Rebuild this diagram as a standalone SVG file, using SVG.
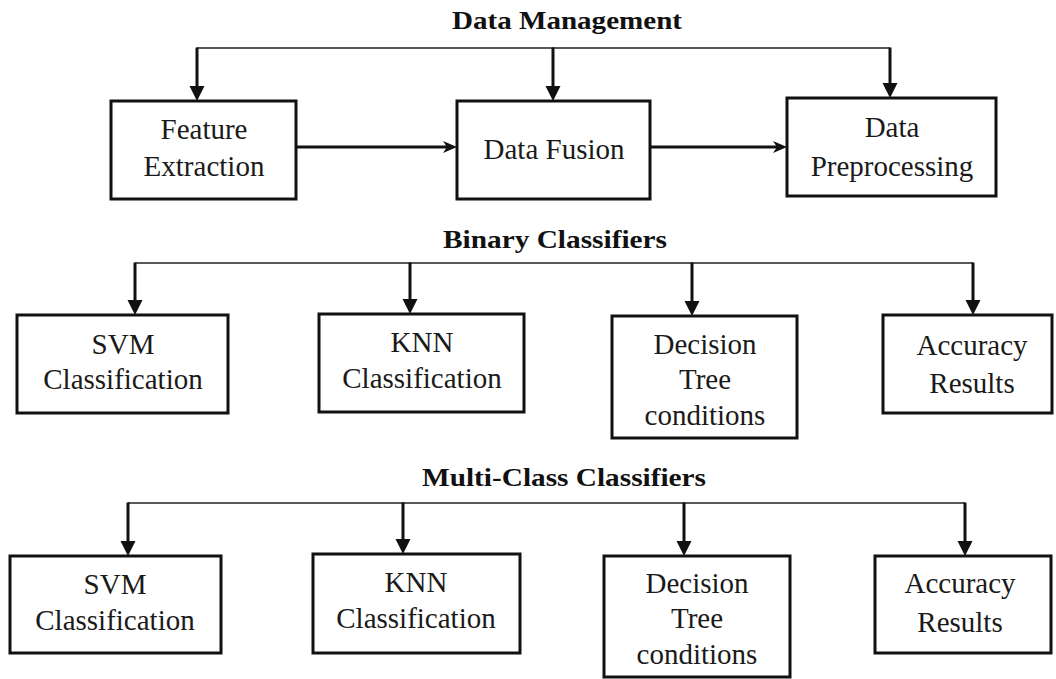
<svg xmlns="http://www.w3.org/2000/svg" width="1056" height="679" viewBox="0 0 1056 679">
<style>
.box{fill:#fff;stroke:#111;stroke-width:3}
.t{font-family:"Liberation Serif","Times New Roman",serif;font-size:29px;fill:#1a1a1a;text-anchor:middle}
.h{font-family:"Liberation Serif","Times New Roman",serif;font-size:25px;font-weight:bold;fill:#111}
.bus{stroke:#222;stroke-width:1.6;fill:none}
.stem{stroke:#111;stroke-width:3;fill:none;marker-end:url(#tri)}
.arr{stroke:#111;stroke-width:3;fill:none;marker-end:url(#barb)}
</style>
<defs>
<marker id="tri" markerUnits="userSpaceOnUse" markerWidth="16" markerHeight="16" viewBox="0 0 16 16" refX="2" refY="7.5" orient="auto">
<path d="M0,0 L15,7.5 L0,15 Z" fill="#111"/>
</marker>
<marker id="barb" markerUnits="userSpaceOnUse" markerWidth="16" markerHeight="14" viewBox="0 0 16 14" refX="4" refY="6" orient="auto">
<path d="M0,0 L14,6 L0,12 L4,6 Z" fill="#111"/>
</marker>
</defs>

<g id="titles">
<text class="h" x="452" y="29" textLength="230" lengthAdjust="spacingAndGlyphs">Data Management</text>
<text class="h" x="443" y="248" textLength="224" lengthAdjust="spacingAndGlyphs">Binary Classifiers</text>
<text class="h" x="422" y="486" textLength="284" lengthAdjust="spacingAndGlyphs">Multi-Class Classifiers</text>
</g>

<g id="connectors">
<line class="bus" x1="197" y1="48" x2="890" y2="48"/>
<line class="stem" x1="197" y1="47.5" x2="197" y2="88"/>
<line class="stem" x1="553" y1="47.5" x2="553" y2="88"/>
<line class="stem" x1="890" y1="47.5" x2="890" y2="85"/>
<line class="arr" x1="296" y1="147" x2="447" y2="147"/>
<line class="arr" x1="650" y1="147" x2="777" y2="147"/>

<line class="bus" x1="135" y1="263" x2="973" y2="263"/>
<line class="stem" x1="135" y1="262.5" x2="135" y2="302"/>
<line class="stem" x1="410" y1="262.5" x2="410" y2="301"/>
<line class="stem" x1="692" y1="262.5" x2="692" y2="303"/>
<line class="stem" x1="973" y1="262.5" x2="973" y2="302"/>

<line class="bus" x1="128" y1="503" x2="965" y2="503"/>
<line class="stem" x1="128" y1="502.5" x2="128" y2="543"/>
<line class="stem" x1="403" y1="502.5" x2="403" y2="541"/>
<line class="stem" x1="684" y1="502.5" x2="684" y2="543"/>
<line class="stem" x1="965" y1="502.5" x2="965" y2="543"/>
</g>

<g id="feature-extraction">
<rect class="box" x="111" y="101" width="185" height="98"/>
<text class="t" x="204" y="139">Feature</text>
<text class="t" x="204" y="176">Extraction</text>
</g>
<g id="data-fusion">
<rect class="box" x="457" y="101" width="193" height="98"/>
<text class="t" x="554" y="159">Data Fusion</text>
</g>
<g id="data-preprocessing">
<rect class="box" x="787" y="98" width="209" height="98"/>
<text class="t" x="892" y="137">Data</text>
<text class="t" x="892" y="176">Preprocessing</text>
</g>

<g id="bin-svm">
<rect class="box" x="17" y="315" width="211" height="98"/>
<text class="t" x="123" y="354">SVM</text>
<text class="t" x="123" y="389">Classification</text>
</g>
<g id="bin-knn">
<rect class="box" x="319" y="314" width="205" height="98"/>
<text class="t" x="422" y="352">KNN</text>
<text class="t" x="422" y="388">Classification</text>
</g>
<g id="bin-dt">
<rect class="box" x="612" y="316" width="185" height="122"/>
<text class="t" x="705" y="354">Decision</text>
<text class="t" x="705" y="389">Tree</text>
<text class="t" x="705" y="425">conditions</text>
</g>
<g id="bin-acc">
<rect class="box" x="883" y="315" width="169" height="98"/>
<text class="t" x="972" y="355">Accuracy</text>
<text class="t" x="972" y="393">Results</text>
</g>

<g id="mc-svm">
<rect class="box" x="10" y="556" width="211" height="97"/>
<text class="t" x="115" y="594">SVM</text>
<text class="t" x="115" y="630">Classification</text>
</g>
<g id="mc-knn">
<rect class="box" x="313" y="554" width="207" height="99"/>
<text class="t" x="416" y="592">KNN</text>
<text class="t" x="416" y="628">Classification</text>
</g>
<g id="mc-dt">
<rect class="box" x="604" y="556" width="186" height="121"/>
<text class="t" x="697" y="593">Decision</text>
<text class="t" x="697" y="628">Tree</text>
<text class="t" x="697" y="664">conditions</text>
</g>
<g id="mc-acc">
<rect class="box" x="875" y="556" width="176" height="97"/>
<text class="t" x="960" y="593">Accuracy</text>
<text class="t" x="960" y="632">Results</text>
</g>
</svg>
